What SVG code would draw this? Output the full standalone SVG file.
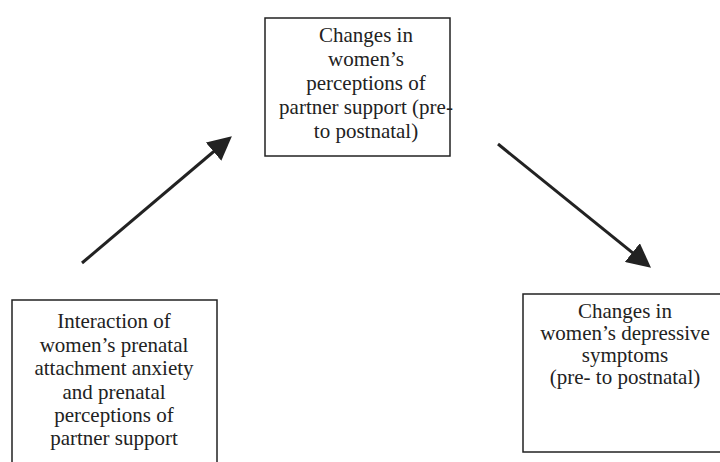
<svg xmlns="http://www.w3.org/2000/svg" width="720" height="462" viewBox="0 0 720 462">
<style>
.box{fill:#fff;stroke:#222;stroke-width:1.5}
.t{font-family:"Liberation Serif","Times New Roman",serif;font-size:21px;fill:#222;text-anchor:middle}
.c{stroke:#222;stroke-width:3;fill:none}
</style>
<defs>
<marker id="ah" markerWidth="8" markerHeight="8" refX="5" refY="4" orient="auto" markerUnits="strokeWidth" viewBox="0 0 8 8">
<path d="M0,0 L8,4 L0,8 Z" fill="#222"/>
</marker>
</defs>
<rect width="720" height="462" fill="#fff"/>
<g id="n-top">
<rect class="box" x="265" y="18" width="185" height="138"/>
<text class="t" x="366" y="42">Changes in</text>
<text class="t" x="366" y="66">women’s</text>
<text class="t" x="366" y="90">perceptions of</text>
<text class="t" x="366" y="114">partner support (pre-</text>
<text class="t" x="366" y="138">to postnatal)</text>
</g>
<g id="n-left">
<rect class="box" x="12" y="300" width="205" height="170"/>
<text class="t" x="114" y="328">Interaction of</text>
<text class="t" x="114" y="352">women’s prenatal</text>
<text class="t" x="114" y="375">attachment anxiety</text>
<text class="t" x="114" y="399">and prenatal</text>
<text class="t" x="114" y="422">perceptions of</text>
<text class="t" x="114" y="445">partner support</text>
</g>
<g id="n-right">
<rect class="box" x="523" y="294" width="205" height="158"/>
<text class="t" x="625" y="318">Changes in</text>
<text class="t" x="625" y="340">women’s depressive</text>
<text class="t" x="625" y="362">symptoms</text>
<text class="t" x="625" y="384">(pre- to postnatal)</text>
</g>
<g id="connectors">
<line class="c" x1="82" y1="263" x2="225" y2="142" marker-end="url(#ah)"/>
<line class="c" x1="498" y1="144" x2="644" y2="262" marker-end="url(#ah)"/>
</g>
</svg>
